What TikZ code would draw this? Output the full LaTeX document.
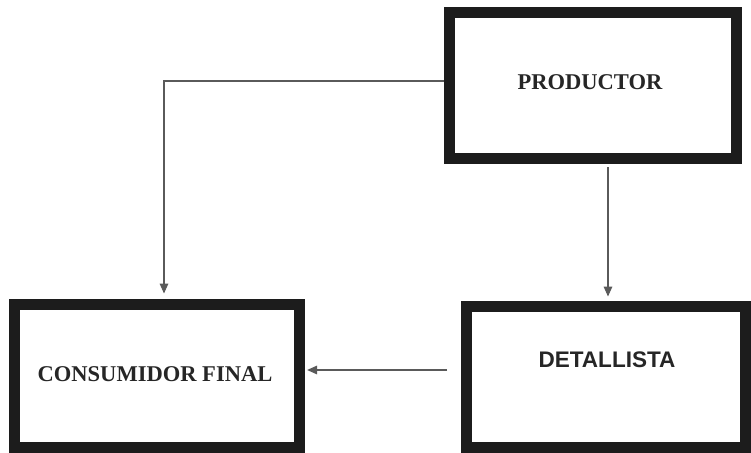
\documentclass[tikz,border=0pt]{standalone}
\usepackage{fontspec}
\setmainfont{Liberation Serif}
\setsansfont{Liberation Sans}
\usetikzlibrary{arrows.meta}
\definecolor{boxcol}{HTML}{1C1C1C}
\definecolor{txtcol}{HTML}{262626}
\definecolor{linecol}{HTML}{5A5A5A}
\begin{document}
\begin{tikzpicture}[x=0.75pt,y=-0.75pt,
  box/.style={draw=boxcol, line width=8.25pt, rectangle, inner sep=0pt, fill=white},
  lbl/.style={text=txtcol, font=\fontsize{16.9}{20}\selectfont\bfseries, inner sep=0pt},
  conn/.style={draw=linecol, line width=0.8pt, -{Triangle[length=7.5pt,width=6.5pt]}}]
\useasboundingbox[fill=white] (0,0) rectangle (751,453);
\node[box, minimum width=287*0.75pt, minimum height=146*0.75pt] (prod) at (592.5,86) {};
\node[box, minimum width=285*0.75pt, minimum height=143*0.75pt] (cons) at (156.5,375.5) {};
\node[box, minimum width=279*0.75pt, minimum height=141*0.75pt] (det) at (605.5,376.5) {};
\node[lbl] (prodt) at (590,82) {PRODUCTOR};
\node[lbl] (const) at (155,374) {CONSUMIDOR FINAL};
\node[lbl, font=\sffamily\fontsize{16.9}{20}\selectfont\bfseries] (dett) at (607,360) {DETALLISTA};
\draw[conn, shorten >=3.75pt] (prod.west |- 0,81) -| (cons.north -| 164,0);
\draw[conn, shorten <=2pt, shorten >=3pt] (prod.south -| 608,0) -- (det.north -| 608,0);
\draw[conn, shorten <=10pt, shorten >=2pt] (det.west |- 0,370) -- (cons.east |- 0,370);
\end{tikzpicture}
\end{document}
